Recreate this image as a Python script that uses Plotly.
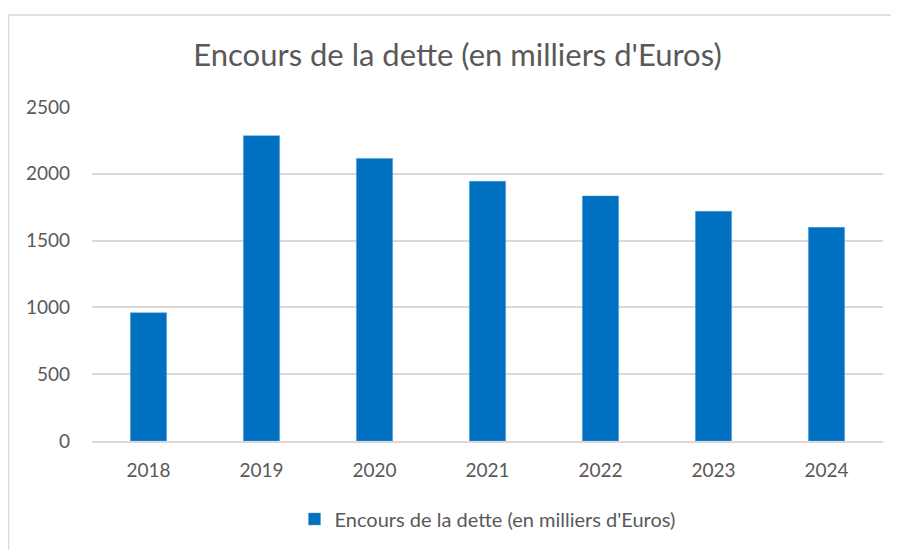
import plotly.graph_objects as go

years = ["2018", "2019", "2020", "2021", "2022", "2023", "2024"]
encours = [960, 2285, 2115, 1944, 1834, 1719, 1599]
series_name = "Encours de la dette (en milliers d'Euros)"
title_text = "Encours de la dette (en milliers d'Euros)"

FONT = "Lato"
GRAY = "#595959"

fig = go.Figure()
fig.add_trace(go.Bar(
    x=years, y=encours, name=series_name,
    marker=dict(color="#0070C0", line=dict(color="#5b9bd5", width=0.5)),
    width=0.32,
))

fig.update_layout(
    width=899, height=550,
    margin=dict(l=84, r=24, t=99, b=117),
    paper_bgcolor="white", plot_bgcolor="white",
    title=dict(text=title_text, x=0.5, xanchor="center", y=0.9145, yanchor="middle",
               font=dict(family=FONT, size=31, color=GRAY)),
    font=dict(family=FONT, color=GRAY),
    showlegend=True,
    legend=dict(orientation="h", x=0.5, xanchor="center", y=-0.2335, yanchor="middle",
                font=dict(family=FONT, size=20, color=GRAY)),
    xaxis=dict(showgrid=False, showline=True, linecolor="#d9d9d9", linewidth=1.5,
               tickfont=dict(size=19, color=GRAY), ticks="", ticklabelstandoff=11),
    yaxis=dict(range=[0, 2500], dtick=500, showgrid=True, gridcolor="#d9d9d9", gridwidth=1.5,
               zeroline=False, showline=False, tickfont=dict(size=19, color=GRAY),
               ticks="", ticklabelstandoff=21),
    bargap=0.68,
)

# Chart frame (partially cut off at right/bottom in the reference)
fig.add_shape(type="line", xref="paper", yref="paper", x0=-0.1056, x1=1.1, y0=1.2754, y1=1.2754,
              line=dict(color="#d9d9d9", width=1.5))
fig.add_shape(type="line", xref="paper", yref="paper", x0=-0.1056, x1=-0.1056, y0=-0.4, y1=1.2754,
              line=dict(color="#d9d9d9", width=1.5))

fig.write_html("out.html")
